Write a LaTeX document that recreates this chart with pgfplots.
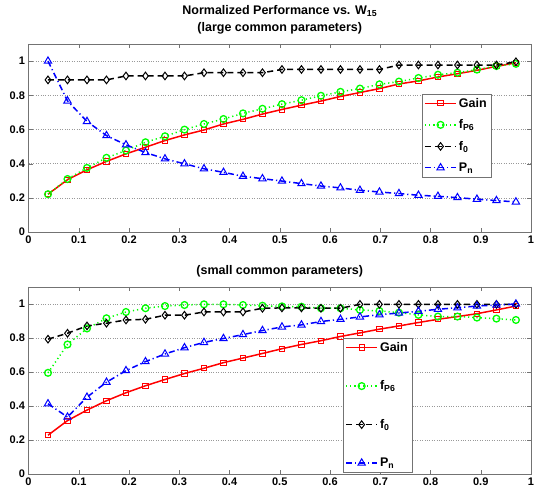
\documentclass[border=0pt]{standalone}
\usepackage{fontspec}
\setmainfont{Liberation Sans}
\usepackage{pgfplots}
\usepackage{pgfplotstable}
\pgfplotsset{compat=1.18}
\pgfplotstableread{
x Gain fP f0 Pn
0.0388 0.221 0.221 0.890 1.000
0.0776 0.306 0.310 0.890 0.767
0.1164 0.364 0.375 0.890 0.647
0.1552 0.413 0.434 0.890 0.564
0.1940 0.457 0.477 0.913 0.510
0.2328 0.496 0.525 0.913 0.465
0.2716 0.535 0.560 0.913 0.428
0.3104 0.568 0.599 0.913 0.399
0.3492 0.597 0.632 0.932 0.370
0.3880 0.632 0.661 0.932 0.349
0.4268 0.659 0.694 0.932 0.326
0.4656 0.690 0.721 0.932 0.312
0.5044 0.717 0.748 0.951 0.298
0.5432 0.742 0.771 0.951 0.283
0.5820 0.766 0.797 0.951 0.269
0.6208 0.793 0.820 0.951 0.258
0.6596 0.816 0.839 0.951 0.244
0.6984 0.839 0.864 0.951 0.234
0.7372 0.866 0.880 0.977 0.225
0.7760 0.884 0.901 0.977 0.215
0.8148 0.907 0.920 0.977 0.209
0.8536 0.926 0.932 0.977 0.201
0.8924 0.946 0.950 0.977 0.192
0.9312 0.969 0.971 0.977 0.184
0.9700 0.990 0.984 0.996 0.176
}\toptable
\pgfplotstableread{
x Gain fP f0 Pn
0.0388 0.228 0.595 0.793 0.413
0.0776 0.314 0.762 0.828 0.335
0.1164 0.376 0.856 0.871 0.452
0.1552 0.431 0.916 0.887 0.540
0.1940 0.478 0.953 0.906 0.608
0.2328 0.519 0.975 0.910 0.661
0.2716 0.556 0.988 0.934 0.706
0.3104 0.591 0.994 0.934 0.743
0.3492 0.622 0.998 0.953 0.774
0.3880 0.655 0.998 0.953 0.797
0.4268 0.682 0.994 0.953 0.820
0.4656 0.709 0.990 0.975 0.844
0.5044 0.737 0.986 0.977 0.865
0.5432 0.762 0.984 0.977 0.877
0.5820 0.784 0.975 0.975 0.897
0.6208 0.809 0.975 0.975 0.910
0.6596 0.830 0.965 0.998 0.924
0.6984 0.852 0.959 0.998 0.937
0.7372 0.871 0.949 0.998 0.947
0.7760 0.891 0.936 0.998 0.957
0.8148 0.910 0.926 0.998 0.969
0.8536 0.926 0.926 0.998 0.978
0.8924 0.943 0.920 0.998 0.988
0.9312 0.965 0.914 0.998 0.994
0.9700 0.988 0.906 0.998 1.000
}\bottable
\pgfplotsset{
  mystyle/.style={
    scale only axis, width=502.5pt, height=188pt,
    xmin=0, xmax=1, ymin=0, ymax=1.1,
    xtick={0,0.1,...,1.0}, ytick={0,0.2,...,1.0},
    /pgf/number format/assume math mode=true,
    tick label style={font=\bfseries\fontsize{11}{13}\selectfont, black},
    axis line style={black!55}, tick style={black!55, major tick length=4pt},
    ymajorgrids, grid style={black!40, dotted},
    title style={font=\bfseries\fontsize{12.5}{17}\selectfont, align=center},
    legend cell align=left,
    legend style={draw=black!55, fill=white, font=\bfseries\fontsize{12.5}{14}\selectfont, inner sep=2pt},
    legend image code/.code={\draw[mark repeat=2,mark phase=2] plot coordinates {(0cm,0cm) (0.55cm,0cm) (1.1cm,0cm)};},
  },
  gainst/.style={red, solid, line width=1.5pt, mark=square, mark size=2.6pt, mark options={solid, line width=1pt}},
  fpst/.style={green, line width=1.5pt, dash pattern=on 1.2pt off 3pt, mark=o, mark size=3.4pt, mark options={solid, line width=1.3pt}},
  fost/.style={black, line width=1.5pt, dash pattern=on 6pt off 4pt, mark=diamond, mark size=3.8pt, mark options={solid, line width=1pt}},
  pnst/.style={blue, line width=1.5pt, dash pattern=on 6pt off 3pt on 1.2pt off 3pt, mark=triangle, mark size=4.2pt, mark options={solid, line width=1pt}},
}
\begin{document}
\begin{tikzpicture}[x=1pt,y=1pt]
\path[use as bounding box] (0,0) rectangle (537,494);
\begin{axis}[mystyle, at={(28.5pt,262pt)}, anchor=south west,
  title={Normalized Performance vs. W\textsubscript{15}\\(large common parameters)},
  legend style={at={(0.783,0.735)}, anchor=north west, row sep=7pt}]
\addplot[gainst] table[x=x,y=Gain]{\toptable};
\addlegendentry{Gain}
\addplot[fpst] table[x=x,y=fP]{\toptable};
\addlegendentry{f\textsubscript{P6}}
\addplot[fost] table[x=x,y=f0]{\toptable};
\addlegendentry{f\textsubscript{0}}
\addplot[pnst] table[x=x,y=Pn]{\toptable};
\addlegendentry{P\textsubscript{n}}
\end{axis}
\begin{axis}[mystyle, at={(28.5pt,20pt)}, anchor=south west, height=187pt,
  title={(small common parameters)},
  legend style={at={(0.626,0.727)}, anchor=north west, row sep=24pt}]
\addplot[gainst] table[x=x,y=Gain]{\bottable};
\addlegendentry{Gain}
\addplot[fpst] table[x=x,y=fP]{\bottable};
\addlegendentry{f\textsubscript{P6}}
\addplot[fost] table[x=x,y=f0]{\bottable};
\addlegendentry{f\textsubscript{0}}
\addplot[pnst] table[x=x,y=Pn]{\bottable};
\addlegendentry{P\textsubscript{n}}
\end{axis}
\end{tikzpicture}
\end{document}
